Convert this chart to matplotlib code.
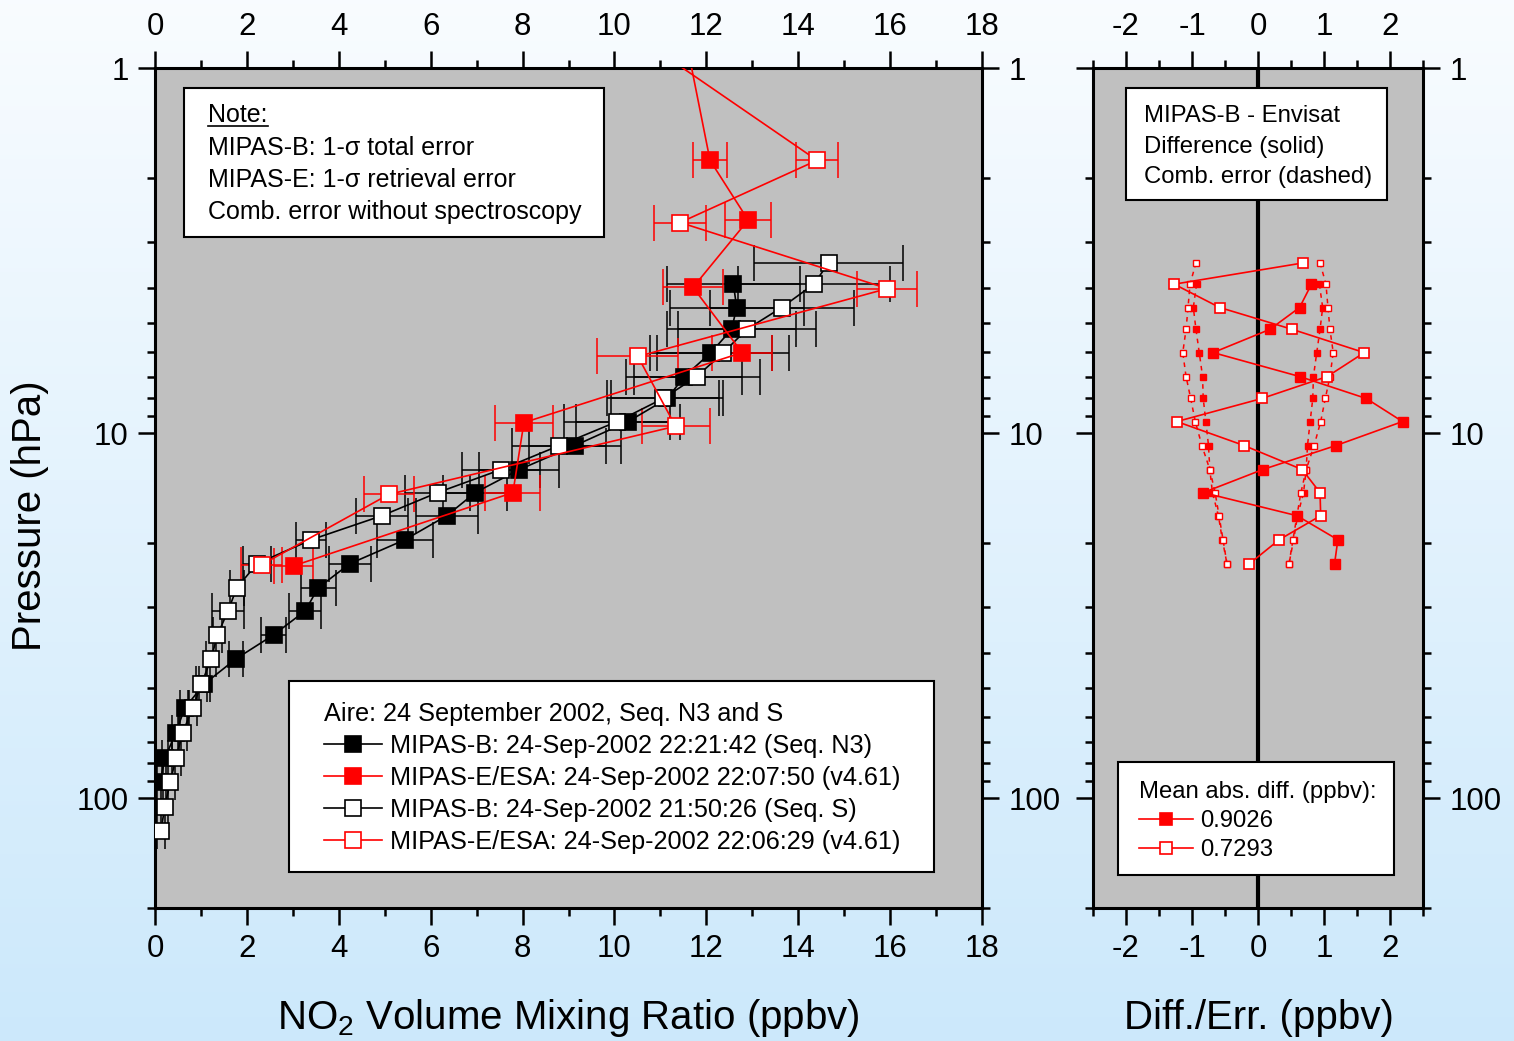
import matplotlib
matplotlib.use("Agg")
import matplotlib.pyplot as plt
import numpy as np
from matplotlib.lines import Line2D
from matplotlib.patches import Rectangle
from matplotlib.ticker import FixedLocator, FuncFormatter, LogLocator, MultipleLocator, NullFormatter

plt.rcParams["font.family"] = ["Liberation Sans", "DejaVu Sans"]
plt.rcParams["mathtext.fontset"] = "custom"
plt.rcParams["mathtext.rm"] = "Liberation Sans"
plt.rcParams["mathtext.it"] = "Liberation Sans:italic"
plt.rcParams["axes.unicode_minus"] = False

# MIPAS-B retrieval levels (hPa)
p_b = [3.42, 3.91, 4.53, 5.20, 6.02, 7.00, 8.04, 9.30, 10.82, 12.59, 14.56, 16.84, 19.60,
       22.80, 26.55, 30.69, 35.72, 41.56, 48.7, 56.6, 66.3, 77.5, 90.4, 105.9, 123.2]

# MIPAS-B Seq. N3 (levels 1..22)
b_n3 = [12.59, 12.66, 12.55, 12.10, 11.52, 11.15, 10.30, 9.14, 7.93, 6.97, 6.35, 5.44,
        4.24, 3.55, 3.27, 2.58, 1.76, 1.07, 0.65, 0.45, 0.22, 0.11]
b_n3_err = [1.44, 1.46, 1.41, 1.33, 1.26, 1.22, 1.13, 1.00, 0.87, 0.70, 0.67, 0.61,
            0.46, 0.38, 0.35, 0.28, 0.15, 0.12, 0.10, 0.08, 0.07, 0.06]

# MIPAS-B Seq. S (levels 0..24)
b_s = [14.66, 14.34, 13.64, 12.88, 12.37, 11.79, 11.06, 10.06, 8.80, 7.53, 6.15, 4.94,
       3.40, 2.22, 1.78, 1.59, 1.36, 1.22, 1.01, 0.82, 0.60, 0.46, 0.33, 0.21, 0.13]
b_s_err = [1.63, 1.65, 1.57, 1.50, 1.44, 1.37, 1.22, 1.15, 1.02, 0.85, 0.70, 0.57,
           0.33, 0.30, 0.15, 0.35, 0.10, 0.10, 0.12, 0.10, 0.10, 0.10, 0.10, 0.08, 0.08]

# MIPAS-E/ESA 22:07:50
p_ef = [0.89, 1.79, 2.61, 3.99, 6.02, 9.36, 14.56, 23.1]
e_f = [11.6, 12.08, 12.91, 11.71, 12.78, 8.03, 7.79, 3.02]
e_f_err = [0.35, 0.37, 0.50, 0.65, 0.66, 0.63, 0.60, 0.42]

# MIPAS-E/ESA 22:06:29
p_eo = [0.89, 1.79, 2.65, 4.02, 6.17, 9.58, 14.72, 22.95]
e_o = [10.9, 14.41, 11.43, 15.94, 10.51, 11.33, 5.09, 2.32]
e_o_err = [0.40, 0.45, 0.56, 0.65, 0.88, 0.74, 0.55, 0.44]

# differences and combined errors on MIPAS-B levels
diff_n3 = [0.81, 0.63, 0.18, -0.68, 0.63, 1.64, 2.19, 1.18, 0.07, -0.83, 0.59, 1.21, 1.16]
err_n3 = [0.93, 0.98, 0.94, 0.89, 0.84, 0.83, 0.79, 0.75, 0.73, 0.69, 0.60, 0.54, 0.47]
diff_s = [0.68, -1.27, -0.58, 0.52, 1.61, 1.05, 0.06, -1.23, -0.21, 0.67, 0.94, 0.95, 0.32, -0.13]
err_s = [0.94, 1.03, 1.06, 1.09, 1.14, 1.09, 1.02, 0.95, 0.85, 0.73, 0.65, 0.59, 0.53, 0.47]

labels = ["MIPAS-B: 24-Sep-2002 22:21:42 (Seq. N3)",
          "MIPAS-E/ESA: 24-Sep-2002 22:07:50 (v4.61)",
          "MIPAS-B: 24-Sep-2002 21:50:26 (Seq. S)",
          "MIPAS-E/ESA: 24-Sep-2002 22:06:29 (v4.61)"]
mean_abs = ["0.9026", "0.7293"]

W, H = 1514, 1041


def fx(x):
    return x / W


def fy(y):
    return 1 - y / H


fig = plt.figure(figsize=(W / 100, H / 100), dpi=100)

# light blue gradient background
bg = fig.add_axes([0, 0, 1, 1], zorder=-10)
g = np.linspace(0, 1, 256)[:, None, None]
top_c = np.array([0.975, 0.988, 1.0])
bot_c = np.array([0.80, 0.912, 0.985])
bg.imshow(top_c + (bot_c - top_c) * g, aspect="auto", extent=[0, 1, 0, 1])
bg.axis("off")

ax = fig.add_axes([fx(155), fy(908), fx(982) - fx(155), fy(68) - fy(908)])
ax2 = fig.add_axes([fx(1093), fy(908), fx(1423) - fx(1093), fy(68) - fy(908)])

for a in (ax, ax2):
    a.set_facecolor("#c0c0c0")
    a.set_yscale("log")
    a.set_ylim(200, 1)
    a.yaxis.set_major_locator(FixedLocator([1, 10, 100]))
    a.yaxis.set_minor_locator(LogLocator(base=10, subs=np.arange(2, 10), numticks=20))
    a.yaxis.set_major_formatter(FuncFormatter(lambda v, pos: f"{v:g}"))
    a.yaxis.set_minor_formatter(NullFormatter())
    for s in a.spines.values():
        s.set_linewidth(2.2)
    a.tick_params(which="both", direction="out", top=True, bottom=True, left=True, right=True,
                  labeltop=True, labelbottom=True, labelright=True, labelsize=22.5, width=1.8)
    a.tick_params(which="major", length=12, pad=7)
    a.tick_params(which="minor", length=6)

ax.set_xlim(0, 18)
ax.xaxis.set_major_locator(MultipleLocator(2))
ax.xaxis.set_minor_locator(MultipleLocator(1))
ax2.set_xlim(-2.5, 2.5)
ax2.xaxis.set_major_locator(MultipleLocator(1))
ax2.xaxis.set_minor_locator(MultipleLocator(0.5))
ax2.tick_params(labelleft=False)

# left panel profiles
p_n3 = p_b[1:23]
eb = dict(fmt="none", elinewidth=1.1, capsize=13, capthick=1.1, zorder=2)
ax.errorbar(b_n3, p_n3, xerr=b_n3_err, ecolor="black", **eb)
ax.errorbar(b_s, p_b, xerr=b_s_err, ecolor="black", **eb)
ax.errorbar(e_f, p_ef, xerr=e_f_err, ecolor="red", **eb)
ax.errorbar(e_o, p_eo, xerr=e_o_err, ecolor="red", **eb)

styles = [dict(color="black", mfc="black", mec="black"),
          dict(color="red", mfc="red", mec="red"),
          dict(color="black", mfc="white", mec="black"),
          dict(color="red", mfc="white", mec="red")]
series = [(b_n3, p_n3), (e_f, p_ef), (b_s, p_b), (e_o, p_eo)]
for (xv, pv), st, z in zip(series, styles, [3, 5, 4, 6]):
    ax.plot(xv, pv, "-", lw=1.2, marker="s", ms=11, mew=1.2, zorder=z, **st)

# right panel
ax2.axvline(0, color="black", lw=3, zorder=2)
p_dn = p_b[1:14]
p_ds = p_b[0:14]
dash = (0, (3, 3))
for sign in (-1, 1):
    ax2.plot(sign * np.array(err_n3), p_dn, ls=dash, color="red", lw=1.1, marker="s", ms=4.5,
             mfc="red", mec="red", zorder=3)
    ax2.plot(sign * np.array(err_s), p_ds, ls=dash, color="red", lw=1.1, marker="s", ms=4.5,
             mfc="white", mec="red", mew=1, zorder=3)
ax2.plot(diff_n3, p_dn, "-", color="red", lw=1.2, marker="s", ms=7.5, mfc="red", mec="red", zorder=4)
ax2.plot(diff_s, p_ds, "-", color="red", lw=1.2, marker="s", ms=7.5, mfc="white", mec="red",
         mew=1.2, zorder=4)


def box(x0, y0, x1, y1):
    fig.add_artist(Rectangle((fx(x0), fy(y1)), fx(x1) - fx(x0), fy(y0) - fy(y1),
                             transform=fig.transFigure, facecolor="white", edgecolor="black",
                             lw=1.5, zorder=5))


def txt(x, y, s, size=18, **kw):
    fig.text(fx(x), fy(y), s, fontsize=size, va="baseline", zorder=6, **kw)


def handle(x0, x1, y, ms, **st):
    fig.add_artist(Line2D([fx(x0), fx(x1)], [fy(y), fy(y)], transform=fig.transFigure,
                          color=st["color"], lw=1.2, zorder=6))
    fig.add_artist(Line2D([fx((x0 + x1) / 2)], [fy(y)], transform=fig.transFigure, marker="s",
                          ms=ms, mew=1.2, mfc=st["mfc"], mec=st["mec"], zorder=7))


# note box
box(184, 88, 604, 237)
txt(208, 122, "Note:")
fig.add_artist(Line2D([fx(208), fx(268)], [fy(126), fy(126)], transform=fig.transFigure,
                      color="black", lw=1.2, zorder=6))
txt(208, 155, "MIPAS-B: 1-σ total error")
txt(208, 187, "MIPAS-E: 1-σ retrieval error")
txt(208, 219, "Comb. error without spectroscopy")

# main legend
box(289, 681, 934, 872)
txt(324, 721, "Aire: 24 September 2002, Seq. N3 and S", size=18.2)
for i, (lab, st) in enumerate(zip(labels, styles)):
    yc = 744 + 32 * i
    handle(324, 382, yc, 11, **st)
    txt(390, yc + 9, lab, size=18.2)

# right panel boxes
box(1126, 88, 1387, 200)
txt(1144, 122, "MIPAS-B - Envisat", size=17.2)
txt(1144, 153, "Difference (solid)", size=17.2)
txt(1144, 183, "Comb. error (dashed)", size=17.2)

box(1118, 762, 1394, 875)
txt(1139, 798, "Mean abs. diff. (ppbv):", size=17.2)
for i, (lab, st) in enumerate(zip(mean_abs, [styles[1], styles[3]])):
    yc = 819 + 29 * i
    handle(1139, 1193, yc, 8.5, **st)
    txt(1200, yc + 8, lab, size=17.2)

# axis titles
fig.text(fx(30), fy(516), "Pressure (hPa)", rotation=90, ha="center", va="center", fontsize=29)
fig.text(fx(568), fy(1029), "NO$_2$ Volume Mixing Ratio (ppbv)", ha="center", va="baseline",
         fontsize=29)
fig.text(fx(1259), fy(1029), "Diff./Err. (ppbv)", ha="center", va="baseline", fontsize=29)

fig.savefig("out.png", dpi=100)
